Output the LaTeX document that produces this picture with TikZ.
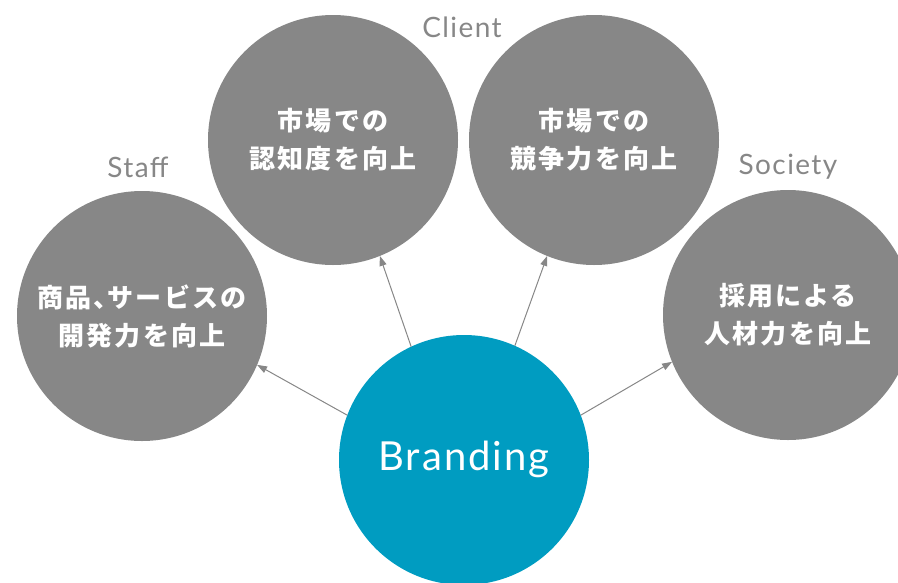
\documentclass[tikz,border=0pt]{standalone}
\usepackage{fontspec}
\setmainfont{Lato}
\newfontfamily\cjk[LetterSpace=8]{Noto Sans CJK JP}
\newfontfamily\latsp[LetterSpace=5]{Lato}
\usetikzlibrary{arrows.meta}
\definecolor{gcol}{HTML}{878787}
\definecolor{tcol}{HTML}{009CC1}
\begin{document}
\begin{tikzpicture}[x=1pt,y=-1pt,
  gcirc/.style={circle,fill=gcol,minimum size=250pt,inner sep=0pt,outer sep=0pt,
    text=white,align=center,font=\cjk\bfseries\fontsize{26}{38}\selectfont},
  bcirc/.style={circle,fill=tcol,minimum size=250pt,inner sep=0pt,outer sep=0pt},
  lab/.style={text=gcol,anchor=base,font=\latsp\fontsize{28}{30}\selectfont},
  conn/.style={draw=gcol,line width=1pt,-{Triangle[length=10pt,width=7pt]}}]
\useasboundingbox (0,0) rectangle (898,582);
\clip (0,0) rectangle (898,582);
\node[gcirc] (staff) at (142,316) {商品、\kern-12pt サービスの\\開発力を向上};
\node[gcirc] (cl) at (333,140) {市場での\\認知度を向上};
\node[gcirc] (cr) at (594,140) {市場での\\競争力を向上};
\node[gcirc] (soc) at (788,315) {採用による\\人材力を向上};
\node[bcirc] (brand) at (464,460) {};
\node[text=white,anchor=base,font=\latsp\fontsize{40}{44}\selectfont] (btxt) at (464,470) {Branding};
\node[lab] (lcl) at (462,37) {Client};
\node[lab] (lst) at (138,177) {Staff};
\node[lab] (lso) at (788,174) {Society};
\draw[conn] (brand.159) -- (staff.-23);
\draw[conn] (brand.115) -- (cl.-68);
\draw[conn] (brand.66) -- (cr.-112);
\draw[conn] (brand.21) -- (soc.-158);
\end{tikzpicture}
\end{document}
